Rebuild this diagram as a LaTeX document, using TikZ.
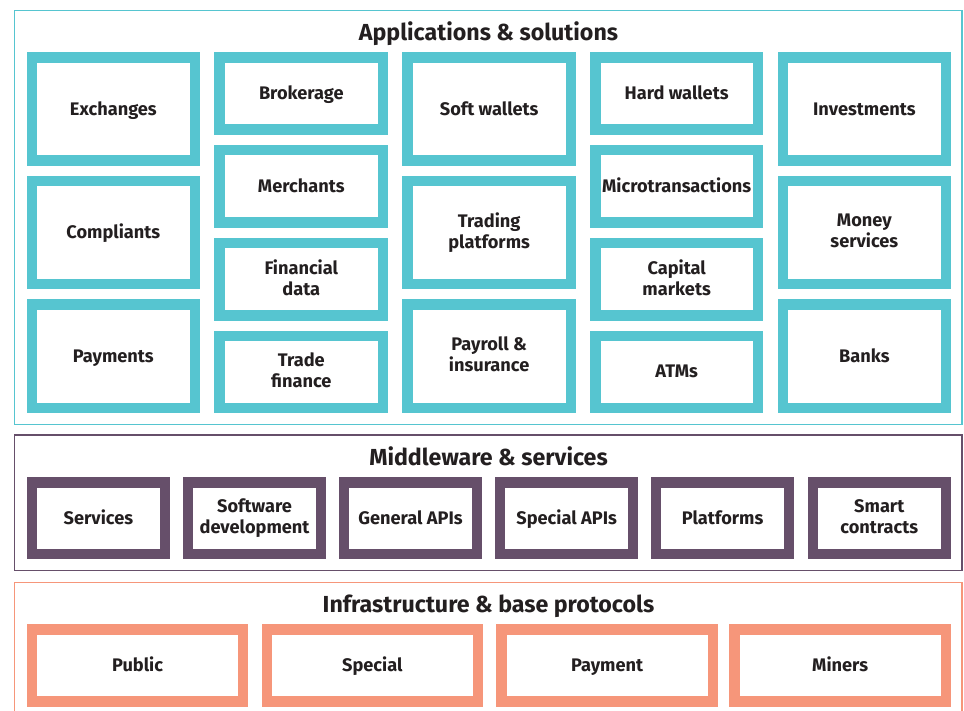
\documentclass[tikz,border=0pt]{standalone}
\usepackage{fontspec}
\setmainfont{Fira Sans}
\definecolor{tealc}{HTML}{56C5D0}
\definecolor{purp}{HTML}{664F6A}
\definecolor{salm}{HTML}{F6967A}
\definecolor{ink}{HTML}{231F20}
\newcommand\cellfont{\bfseries\fontsize{18.2}{21}\selectfont}
\newcommand\headfont{\bfseries\fontsize{23.2}{26}\selectfont}
\tikzset{
  cell/.style={draw, line width=10.5pt, fill=white, align=center, font=\cellfont, text=ink, inner sep=0pt,
    execute at begin node={\rule{0pt}{16pt}}, execute at end node={\vphantom{g}}},
  tcell/.style={cell, draw=tealc},
  pcell/.style={cell, draw=purp},
  scell/.style={cell, draw=salm},
  frame/.style={line width=1.6pt, inner sep=0pt},
  head/.style={font=\headfont, text=ink, anchor=base, inner sep=0pt}
}
% style, name, x1, y1, x2, y2, text
\newcommand\mybox[7]{%
  \node[#1, minimum width={#5-#3-10.5}, minimum height={#6-#4-10.5}] (#2) at ({(#3+#5)/2},{(#4+#6)/2}) {#7};}
\newcommand\myframe[6]{%
  \node[frame, draw=#1, minimum width={#5-#3}, minimum height={#6-#4}] (#2) at ({(#3+#5)/2},{(#4+#6)/2}) {};}
\begin{document}
\begin{tikzpicture}[x=1pt,y=-1pt]
\useasboundingbox (0,0) rectangle (964,711);
\clip (0,0) rectangle (964,711);
% frames
\myframe{tealc}{appframe}{14.3}{10.5}{962}{424.5}
\myframe{purp}{midframe}{14.3}{434.8}{962}{570.5}
\myframe{salm}{infframe}{14.3}{582.3}{962}{730}
% titles
\node[head] (apptitle) at (488.5,40.5) {Applications \& solutions};
\node[head] (midtitle) at (488.5,465.5) {Middleware \& services};
\node[head] (inftitle) at (488.5,612.5) {Infrastructure \& base protocols};
% column 1
\mybox{tcell}{exch}{26.7}{52.3}{200}{166}{Exchanges}
\mybox{tcell}{compl}{26.7}{176}{200}{289.3}{Compliants}
\mybox{tcell}{paym}{26.7}{299.3}{200}{413.3}{Payments}
% column 2
\mybox{tcell}{brok}{214.3}{52.3}{388.3}{135}{Brokerage}
\mybox{tcell}{merch}{214.3}{145}{388.3}{227.7}{Merchants}
\mybox{tcell}{findata}{214.3}{237.7}{388.3}{320.7}{Financial\\data}
\mybox{tcell}{tradefin}{214.3}{330.7}{388.3}{413.3}{Trade\\finance}
% column 3
\mybox{tcell}{softw}{402.3}{52.3}{576}{166}{Soft wallets}
\mybox{tcell}{tradpl}{402.3}{176}{576}{289.3}{Trading\\platforms}
\mybox{tcell}{payroll}{402.3}{299.3}{576}{413.3}{Payroll \&\\insurance}
% column 4
\mybox{tcell}{hardw}{590}{52.3}{763.3}{135}{Hard wallets}
\mybox{tcell}{micro}{590}{145}{763.3}{227.7}{Microtransactions}
\mybox{tcell}{capm}{590}{237.7}{763.3}{320.7}{Capital\\markets}
\mybox{tcell}{atms}{590}{330.7}{763.3}{413.3}{ATMs}
% column 5
\mybox{tcell}{invest}{777.7}{52.3}{951}{166}{Investments}
\mybox{tcell}{money}{777.7}{176}{951}{289.3}{Money\\services}
\mybox{tcell}{banks}{777.7}{299.3}{951}{413.3}{Banks}
% middleware
\mybox{pcell}{services}{26.7}{477.3}{170.2}{559.3}{Services}
\mybox{pcell}{softdev}{182.8}{477.3}{326.3}{559.3}{Software\\development}
\mybox{pcell}{genapi}{338.8}{477.3}{482.3}{559.3}{General APIs}
\mybox{pcell}{specapi}{494.9}{477.3}{638.4}{559.3}{Special APIs}
\mybox{pcell}{platf}{650.9}{477.3}{794.4}{559.3}{Platforms}
\mybox{pcell}{smart}{807.5}{477.3}{951}{559.3}{Smart\\contracts}
% infrastructure
\mybox{scell}{public}{26.7}{624.3}{248.4}{706.7}{Public}
\mybox{scell}{special}{261.5}{624.3}{483.2}{706.7}{Special}
\mybox{scell}{payment}{496.3}{624.3}{718}{706.7}{Payment}
\mybox{scell}{miners}{729.3}{624.3}{951}{706.7}{Miners}
\end{tikzpicture}
\end{document}
